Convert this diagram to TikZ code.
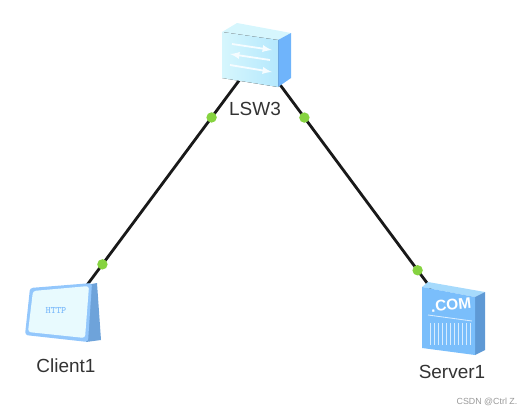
\documentclass[tikz,border=0pt]{standalone}
\usepackage{xcolor}
\usepackage{fontspec}
\setmainfont{Liberation Sans}
\definecolor{iconfront}{HTML}{BDEEFD}
\definecolor{icontop}{HTML}{D6F6FD}
\definecolor{iconside}{HTML}{6FB4FB}
\definecolor{serverfront}{HTML}{7ABEFB}
\definecolor{servertop}{HTML}{A6DAFC}
\definecolor{linkdot}{HTML}{86D340}

\begin{document}
\begin{tikzpicture}[x=0.025cm, y=-0.025cm,
    device/.style={rectangle, inner sep=0pt},
    label/.style={text=black!80, font=\fontsize{13.5}{16}\selectfont},
    link/.style={draw=black!90, line width=2pt},
    portdot/.style={circle, fill=linkdot, inner sep=0pt, minimum size=0.26cm},
    rail/.style={white!85!iconfront, line width=1.3pt, -latex}]

    \useasboundingbox (0,0) rectangle (522,414);

    \node[device] (LSW3) at (258,55) {};
    \node[device] (Client1) at (67,312) {};
    \node[device] (Server1) at (453,318) {};

    \draw[link] (LSW3) -- node[portdot, pos=0.241] (p1) {} node[portdot, pos=0.817] (p2) {} (Client1);
    \draw[link] (LSW3) -- node[portdot, pos=0.236] (p3) {} node[portdot, pos=0.821] (p4) {} (Server1);

    % switch
    \fill[icontop] (222,32) -- (237,23) -- (291,33) -- (278,40) -- cycle;
    \fill[iconside] (278,40) -- (291,33) -- (291,78) -- (278,87) -- cycle;
    \fill[left color=icontop, right color=iconfront!90!iconside] (222,32) -- (278,40) -- (278,87) -- (222,78) -- cycle;
    \draw[rail] (232,44) -- (272,50);
    \draw[rail] (270,60) -- (230,54);
    \draw[rail] (230,65) -- (272,72);

    % client
    \fill[iconside!85!black!90] (86,285) -- (97,283) -- (101,340) -- (86,342) -- cycle;
    \fill[rounded corners=2pt, fill=iconside!75] (30,288) -- (92,283) -- (88,342) -- (25,335) -- cycle;
    \fill[rounded corners=2pt, fill=icontop!55] (33,291) -- (89,286) -- (85,338) -- (28,332) -- cycle;
    \node[text=iconside!90, font=\ttfamily\bfseries\fontsize{7}{8}\selectfont] (http) at (56,310) {HTTP};

    % server
    \fill[servertop] (422,287) -- (428,282) -- (485,292) -- (475,297) -- cycle;
    \fill[iconside!85!black] (475,297) -- (485,292) -- (485,350) -- (475,355) -- cycle;
    \fill[serverfront] (422,287) -- (475,297) -- (475,355) -- (422,348) -- cycle;
    \node[white, rotate=6, font=\bfseries\fontsize{11}{13}\selectfont] (com) at (451,305) {.COM};
    \foreach \x in {430,434,...,470} {
        \draw[white!70!serverfront, line width=0.4pt] (\x,323) -- (\x,345);
    }
    \draw[white!70!serverfront, line width=0.6pt] (428,315) -- (472,321);

    \node[label] (lsw) at (255,109) {LSW3};
    \node[label] (cli) at (66,366) {Client1};
    \node[label] (srv) at (452,372) {Server1};
    \node[text=black!40, font=\fontsize{6.3}{8}\selectfont] (mark) at (487,402) {CSDN @Ctrl Z.};
\end{tikzpicture}
\end{document}
